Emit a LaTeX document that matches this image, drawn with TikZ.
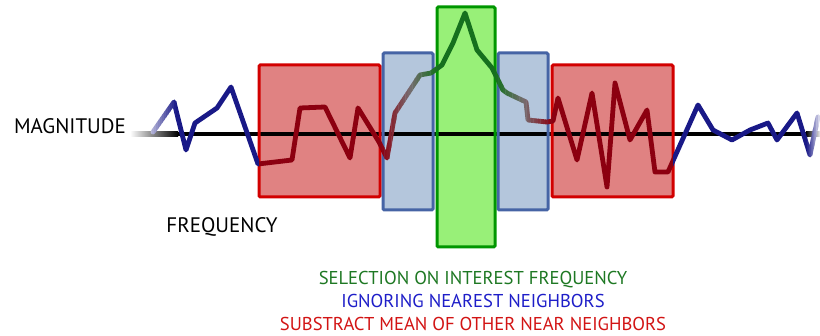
\documentclass[tikz,border=0pt]{standalone}
\usepackage{fontspec}
\setmainfont{PT Sans}
\begin{document}
\begin{tikzpicture}[x=1pt,y=-1pt,
  box/.style={line width=3pt, rounded corners=1.2pt},
  sigline/.style={line width=4.8pt, line join=round, line cap=round},
  lbl/.style={inner sep=0pt, font=\fontsize{21}{24}\selectfont},
  captext/.style={inner sep=0pt, font=\fontsize{18.6}{22}\selectfont}]
\definecolor{navy}{RGB}{25,25,135}
\definecolor{dred}{RGB}{140,0,16}
\definecolor{dgreen}{RGB}{22,112,30}
\definecolor{midgray}{RGB}{118,108,112}
\definecolor{redfill}{RGB}{224,130,130}
\definecolor{redline}{RGB}{210,0,0}
\definecolor{bluefill}{RGB}{180,198,220}
\definecolor{blueline}{RGB}{70,100,165}
\definecolor{greenfill}{RGB}{152,240,120}
\definecolor{greenline}{RGB}{0,150,0}
\definecolor{txtgreen}{RGB}{30,120,35}
\definecolor{txtblue}{RGB}{30,30,200}
\definecolor{txtred}{RGB}{210,20,20}

\useasboundingbox (0,0) rectangle (820,336);

% the spectrum trace
\def\sig{(153,132) -- (174,102) -- (186,150) -- (195,123) -- (217,108) -- (231,87)
  -- (258,164) -- (292,160) -- (300,108) -- (325,107) -- (350,158) -- (358,108)
  -- (379,142) -- (387,158) -- (395,113) -- (420,75) -- (431,73) -- (442,65)
  -- (453,43) -- (465,13) -- (477,50) -- (492,68) -- (503,90) -- (507,93)
  -- (526,102) -- (528,120) -- (547,122) -- (553,121) -- (558,98) -- (577,160)
  -- (592,93) -- (607,187) -- (615,83) -- (630,140) -- (647,110) -- (655,172)
  -- (668,172) -- (698,105) -- (713,130) -- (732,140) -- (750,130) -- (768,123)
  -- (777,140) -- (797,113) -- (810,155) -- (818,117)}

% one colour over a vertical band
\newcommand\sigband[3]{%
  \begin{scope}\clip (#1,0) rectangle (#2,336); \draw[sigline,#3] \sig; \end{scope}}
% colour ramp over a vertical band: x1, x2, start colour, end colour, steps
\newcommand\sigramp[5]{%
  \foreach \k in {1,...,#5}{%
    \pgfmathsetmacro\xa{#1+(#2-#1)*(\k-1)/#5}%
    \pgfmathsetmacro\xb{#1+(#2-#1)*\k/#5+0.4}%
    \pgfmathtruncatemacro\pc{100*(\k-0.5)/#5}%
    \begin{scope}\clip (\xa,0) rectangle (\xb,336); \draw[sigline,color=#4!\pc!#3] \sig; \end{scope}%
  }}

% band fills
\fill[redfill]   (259,65) rectangle (380,197);
\fill[redfill]   (552,65) rectangle (673,197);
\fill[bluefill]  (383,53) rectangle (433,210);
\fill[bluefill]  (498,53) rectangle (548,210);
\fill[greenfill] (437,7)  rectangle (495,247);

% frequency axis with faded ends
\shade[left color=white, right color=black] (130,131.8) rectangle (178,136.2);
\fill[black] (177.5,131.8) rectangle (806.5,136.2);
\shade[left color=black, right color=white] (806,131.8) rectangle (821,136.2);

% band outlines
\draw[box, redline]   (259,65) rectangle (380,197);
\draw[box, redline]   (552,65) rectangle (673,197);
\draw[box, blueline]  (383,53) rectangle (433,210);
\draw[box, blueline]  (498,53) rectangle (548,210);
\draw[box, greenline] (437,7)  rectangle (495,247);

% trace, coloured by band
\sigramp{140}{176}{white}{navy}{18}
\sigband{175.8}{259}{navy}
\sigband{259}{382}{dred}
\sigramp{382}{410}{dred}{midgray}{12}
\sigramp{410}{437}{midgray}{dgreen}{12}
\sigband{437}{496}{dgreen}
\sigramp{496}{524}{dgreen}{midgray}{12}
\sigramp{524}{552}{midgray}{dred}{12}
\sigband{552}{673}{dred}
\sigband{673}{807}{navy}
\sigramp{806.8}{822}{navy}{white}{8}

% labels
\node[lbl] (mag)  at (70,126)  {MAGNITUDE};
\node[lbl] (freq) at (222,227) {FREQUENCY};
\node[captext, text=txtgreen] (sel) at (473,280) {SELECTION ON INTEREST FREQUENCY};
\node[captext, text=txtblue]  (ign) at (473,301) {IGNORING NEAREST NEIGHBORS};
\node[captext, text=txtred]   (sub) at (473,324) {SUBSTRACT MEAN OF OTHER NEAR NEIGHBORS};
\end{tikzpicture}
\end{document}
